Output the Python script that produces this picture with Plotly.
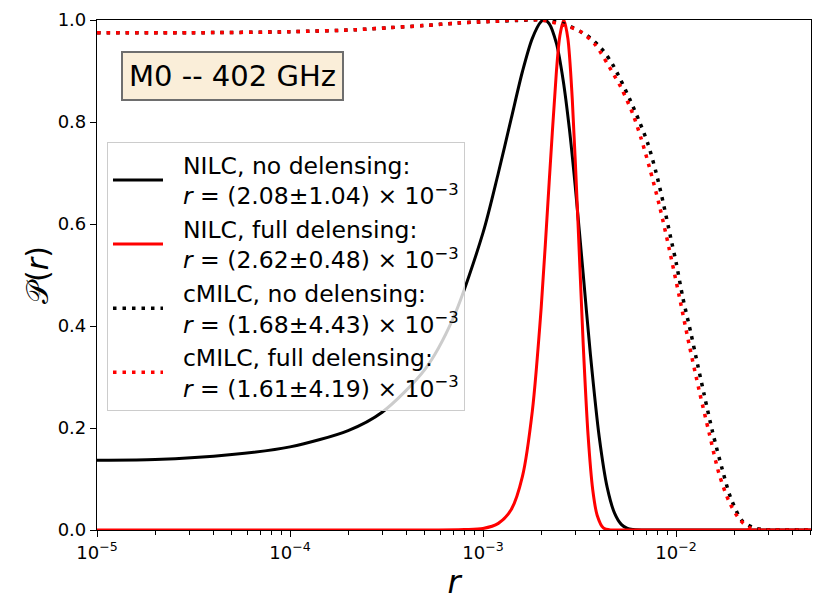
import plotly.graph_objects as go

# NILC, no delensing (black solid)
r_nilc_nodel = [1e-5, 2e-5, 5e-5, 1e-4, 2e-4, 3e-4, 5e-4, 7e-4, 1.0e-3, 1.2e-3, 1.4e-3,
                1.6e-3, 1.8e-3, 2.0e-3, 2.08e-3, 2.2e-3, 2.4e-3, 2.6e-3, 2.8e-3, 3.0e-3,
                3.3e-3, 3.6e-3, 4.0e-3, 4.4e-3, 4.8e-3, 5.2e-3, 5.6e-3, 6.0e-3, 7e-3, 1e-2, 5e-2]
p_nilc_nodel = [0.137, 0.138, 0.148, 0.163, 0.195, 0.231, 0.315, 0.415, 0.583, 0.700, 0.807,
                0.899, 0.964, 0.997, 1.0, 0.993, 0.954, 0.882, 0.787, 0.676,
                0.503, 0.344, 0.182, 0.083, 0.033, 0.011, 0.003, 0.001, 0.0, 0.0, 0.0]

# NILC, full delensing (red solid)
r_nilc_full = [1e-5, 5e-4, 8e-4, 1.0e-3, 1.2e-3, 1.4e-3, 1.6e-3, 1.8e-3, 2.0e-3, 2.2e-3,
               2.4e-3, 2.5e-3, 2.62e-3, 2.75e-3, 2.9e-3, 3.1e-3, 3.3e-3, 3.5e-3, 3.7e-3,
               3.9e-3, 4.2e-3, 4.6e-3, 5e-3, 5e-2]
p_nilc_full = [0.0, 0.0, 0.001, 0.003, 0.013, 0.040, 0.105, 0.233, 0.435, 0.681,
               0.900, 0.969, 1.0, 0.964, 0.844, 0.607, 0.367, 0.186, 0.079,
               0.029, 0.004, 0.0, 0.0, 0.0]

# cMILC, no delensing (black dotted)
r_cmilc_nodel = [1e-5, 3e-5, 1e-4, 2.2e-4, 3.3e-4, 4.9e-4, 7.3e-4, 1.07e-3, 1.5e-3, 2.0e-3,
                 2.6e-3, 3.44e-3, 4.11e-3, 4.72e-3, 5.75e-3, 6.47e-3, 7.15e-3, 7.89e-3,
                 8.54e-3, 9.43e-3, 1.0e-2, 1.082e-2, 1.195e-2, 1.267e-2, 1.399e-2, 1.544e-2,
                 1.738e-2, 1.919e-2, 2.2e-2, 2.5e-2, 2.8e-2, 3.2e-2, 5e-2]
p_cmilc_nodel = [0.975, 0.975, 0.977, 0.981, 0.985, 0.989, 0.994, 0.997, 0.999, 1.0,
                 0.993, 0.970, 0.944, 0.911, 0.845, 0.800, 0.757, 0.700,
                 0.645, 0.569, 0.525, 0.457, 0.385, 0.340, 0.265, 0.193,
                 0.118, 0.063, 0.018, 0.005, 0.001, 0.0, 0.0]

# cMILC, full delensing (red dotted)
r_cmilc_full = [1e-5, 3e-5, 1e-4, 2.2e-4, 3.3e-4, 4.9e-4, 7.3e-4, 1.07e-3, 1.5e-3, 2.0e-3,
                2.6e-3, 3.18e-3, 3.8e-3, 4.72e-3, 5.21e-3, 5.98e-3, 6.61e-3, 7.29e-3,
                8.21e-3, 9.24e-3, 1.04e-2, 1.171e-2, 1.318e-2, 1.484e-2, 1.67e-2, 1.88e-2,
                2.12e-2, 2.38e-2, 2.7e-2, 3.0e-2, 5e-2]
p_cmilc_full = [0.975, 0.975, 0.977, 0.981, 0.985, 0.989, 0.994, 0.997, 1.0, 1.0,
                0.990, 0.978, 0.952, 0.895, 0.866, 0.815, 0.766, 0.710,
                0.635, 0.549, 0.457, 0.362, 0.273, 0.190, 0.110, 0.056,
                0.022, 0.005, 0.001, 0.0, 0.0]

pad = "\u00a0\u00a0"
labels = [
    pad + "NILC, no delensing:<br>" + pad + "<i>r</i> = (2.08±1.04) × 10<sup>−3</sup>",
    pad + "NILC, full delensing:<br>" + pad + "<i>r</i> = (2.62±0.48) × 10<sup>−3</sup>",
    pad + "cMILC, no delensing:<br>" + pad + "<i>r</i> = (1.68±4.43) × 10<sup>−3</sup>",
    pad + "cMILC, full delensing:<br>" + pad + "<i>r</i> = (1.61±4.19) × 10<sup>−3</sup>",
]

decades = [1e-5, 1e-4, 1e-3, 1e-2]
decade_text = ["10<sup>−5</sup>", "10<sup>−4</sup>", "10<sup>−3</sup>", "10<sup>−2</sup>"]
minor_vals = [m * d for d in decades for m in range(2, 10) if m * d <= 5e-2]

fig = go.Figure()
fig.add_trace(go.Scatter(x=r_nilc_nodel, y=p_nilc_nodel, mode='lines', name=labels[0],
                         line=dict(color='black', width=3, shape='spline', smoothing=0.8)))
fig.add_trace(go.Scatter(x=r_nilc_full, y=p_nilc_full, mode='lines', name=labels[1],
                         line=dict(color='red', width=3, shape='spline', smoothing=0.8)))
fig.add_trace(go.Scatter(x=r_cmilc_nodel, y=p_cmilc_nodel, mode='lines', name=labels[2],
                         line=dict(color='black', width=3.5, dash='3.5px,6px', shape='spline', smoothing=0.8)))
fig.add_trace(go.Scatter(x=r_cmilc_full, y=p_cmilc_full, mode='lines', name=labels[3],
                         line=dict(color='red', width=3.5, dash='3.5px,6px', shape='spline', smoothing=0.8)))

fig.add_annotation(text="M0 -- 402 GHz", xref='paper', yref='paper', x=0.19, y=0.89,
                   xanchor='center', yanchor='middle', showarrow=False,
                   font=dict(size=29, color='black'),
                   bgcolor='#FAEED9', bordercolor='#6e6e6e', borderwidth=2, borderpad=6)

# the page body adds 8px on the left and top, so margins are trimmed by that
fig.update_layout(
    width=831, height=616,
    margin=dict(l=89, r=28, t=12, b=94),
    plot_bgcolor='white', paper_bgcolor='white',
    font=dict(family='DejaVu Sans', color='black', size=18),
    legend=dict(x=0.014, y=0.761, xanchor='left', yanchor='top',
                bgcolor='rgba(255,255,255,0.8)', bordercolor='#cccccc', borderwidth=1,
                font=dict(size=23.5), itemwidth=50, valign='middle', tracegroupgap=0),
)
fig.update_xaxes(type='log', range=[-5, -1.301], automargin=False,
                 tickmode='array', tickvals=decades, ticktext=decade_text,
                 ticks='outside', ticklen=6, tickwidth=1, tickcolor='black',
                 minor=dict(tickmode='array', tickvals=minor_vals, ticks='outside',
                            ticklen=3.5, tickwidth=1, tickcolor='black', showgrid=False),
                 showline=True, linecolor='black', linewidth=1.2, mirror=True,
                 showgrid=False, zeroline=False,
                 title=dict(text='<i>r</i>', font=dict(size=32), standoff=6))
fig.update_yaxes(range=[0, 1], automargin=False,
                 tickmode='array', tickvals=[0, 0.2, 0.4, 0.6, 0.8, 1.0],
                 tickformat='.1f',
                 ticks='outside', ticklen=6, tickwidth=1, tickcolor='black',
                 showline=True, linecolor='black', linewidth=1.2, mirror=True,
                 showgrid=False, zeroline=False,
                 title=dict(text='𝒫(<i>r</i>)', font=dict(size=30), standoff=0))

fig.write_html("out.html")
